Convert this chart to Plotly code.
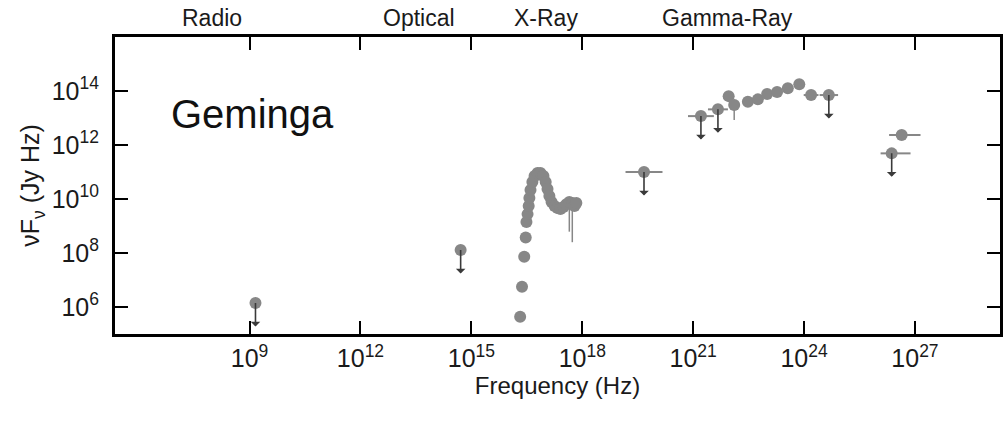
import numpy as np
import plotly.graph_objects as go

# ---------------- data (log10 values) ----------------
# Radio / optical / gamma points: log10 frequency, log10 nuFnu, upper-limit flag,
# horizontal extent (decades below / above), downward error (decades)
pt_log_nu   = [9.16, 14.71, 19.67, 21.21, 21.67, 21.96, 22.11, 22.48, 22.75, 23.00,
               23.27, 23.56, 23.87, 24.19, 24.67, 26.37, 26.64]
pt_log_flux = [6.15, 8.11, 11.00, 13.07, 13.32, 13.81, 13.48, 13.60, 13.69, 13.89,
               13.96, 14.10, 14.25, 13.85, 13.85, 11.69, 12.37]
pt_upper    = [1, 1, 1, 1, 1, 0, 0, 0, 0, 0, 0, 0, 0, 0, 1, 1, 0]
pt_xerr_lo  = [0, 0, 0.50, 0.35, 0.27, 0, 0, 0, 0, 0, 0, 0, 0, 0.20, 0.25, 0.30, 0.34]
pt_xerr_hi  = [0, 0, 0.50, 0.35, 0.27, 0, 0, 0, 0, 0, 0, 0, 0, 0.20, 0.25, 0.51, 0.51]
pt_yerr_lo  = [0, 0, 0, 0, 0, 0, 0.55, 0, 0, 0, 0, 0, 0, 0, 0, 0, 0]

# X-ray spectrum points
xr_log_nu   = [16.32, 16.37, 16.43, 16.47, 16.49, 16.52, 16.55, 16.57, 16.60, 16.65,
               16.71, 16.79, 16.87, 16.95, 17.01, 17.06, 17.11, 17.17, 17.25, 17.33,
               17.41, 17.49, 17.57, 17.65, 17.73, 17.79, 17.84]
xr_log_flux = [5.64, 6.75, 7.86, 8.57, 9.15, 9.44, 9.74, 10.04, 10.33, 10.63,
               10.85, 10.96, 10.96, 10.85, 10.63, 10.37, 10.11, 9.89, 9.74, 9.67,
               9.63, 9.70, 9.81, 9.89, 9.85, 9.74, 9.85]
xr_yerr_lo  = [0, 0, 0, 0, 0, 0, 0, 0, 0, 0, 0, 0, 0, 0, 0, 0, 0, 0, 0, 0,
               0, 0, 0, 1.10, 1.45, 0, 0]

x_tick_exp = [9, 12, 15, 18, 21, 24, 27]
y_tick_exp = [6, 8, 10, 12, 14]

bands = ["Radio", "Optical", "X-Ray", "Gamma-Ray"]
band_log_nu = [7.98, 13.58, 17.03, 21.94]

source_name = "Geminga"

# ---------------- build figure ----------------
GRAY = "#878787"
FONT = "Liberation Sans, Arial, Helvetica, sans-serif"
TXT = "#1a1a1a"

def lin(v):
    return 10.0 ** np.asarray(v, dtype=float)

pnu = lin(pt_log_nu)
pfl = lin(pt_log_flux)
ex_minus = pnu * (1 - 10.0 ** (-np.asarray(pt_xerr_lo)))
ex_plus = pnu * (10.0 ** np.asarray(pt_xerr_hi) - 1)
ey_minus = pfl * (1 - 10.0 ** (-np.asarray(pt_yerr_lo)))

xnu = lin(xr_log_nu)
xfl = lin(xr_log_flux)
xey_minus = xfl * (1 - 10.0 ** (-np.asarray(xr_yerr_lo)))

fig = go.Figure()

fig.add_trace(go.Scatter(
    x=xnu, y=xfl, mode="markers",
    marker=dict(color=GRAY, size=12, line=dict(width=0)),
    error_y=dict(type="data", symmetric=False, array=np.zeros_like(xfl),
                 arrayminus=xey_minus, color=GRAY, thickness=1.5, width=0),
    showlegend=False, hoverinfo="x+y"))

fig.add_trace(go.Scatter(
    x=pnu, y=pfl, mode="markers",
    marker=dict(color=GRAY, size=12, line=dict(width=0)),
    error_x=dict(type="data", symmetric=False, array=ex_plus, arrayminus=ex_minus,
                 color=GRAY, thickness=2, width=0),
    error_y=dict(type="data", symmetric=False, array=np.zeros_like(pfl),
                 arrayminus=ey_minus, color=GRAY, thickness=1.5, width=0),
    showlegend=False, hoverinfo="x+y"))

annotations = []
# upper-limit arrows
for lx, ly, ul in zip(pt_log_nu, pt_log_flux, pt_upper):
    if ul:
        annotations.append(dict(
            x=lx, y=ly, xref="x", yref="y", text="", showarrow=True,
            ax=0, ay=25, arrowside="start", arrowhead=2, arrowsize=1.1,
            arrowwidth=1.6, arrowcolor="#3a3a3a", standoff=0, startstandoff=0))

# band labels on top
for name, lx in zip(bands, band_log_nu):
    annotations.append(dict(
        x=lx, y=1.0, xref="x", yref="paper", yanchor="bottom", yshift=4,
        text=name, showarrow=False, font=dict(family=FONT, size=23, color=TXT)))

annotations.append(dict(
    x=0.155, y=0.74, xref="paper", yref="paper", text=source_name, showarrow=False,
    xanchor="center", yanchor="middle", font=dict(family=FONT, size=40, color="#111")))

fig.update_layout(
    width=1004, height=421,
    margin=dict(l=115, r=1, t=37, b=87),
    paper_bgcolor="white", plot_bgcolor="white",
    font=dict(family=FONT, color=TXT),
    annotations=annotations,
)

fig.update_xaxes(
    type="log", range=[5.36, 29.3],
    tickmode="array", tickvals=[10.0 ** e for e in x_tick_exp],
    ticktext=[f"10<sup>{e}</sup>" for e in x_tick_exp],
    ticks="inside", ticklen=13, tickwidth=1.5, tickcolor="black",
    showline=True, linewidth=3, linecolor="black", mirror="ticks",
    showgrid=False, zeroline=False,
    tickfont=dict(family=FONT, size=25, color=TXT),
    title=dict(text="Frequency (Hz)", font=dict(family=FONT, size=24, color=TXT), standoff=0),
)
fig.update_yaxes(
    type="log", range=[5, 16],
    tickmode="array", tickvals=[10.0 ** e for e in y_tick_exp],
    ticktext=[f"10<sup>{e}</sup>" for e in y_tick_exp],
    ticks="inside", ticklen=13, tickwidth=1.5, tickcolor="black",
    showline=True, linewidth=3, linecolor="black", mirror="ticks",
    showgrid=False, zeroline=False, ticklabelstandoff=8,
    tickfont=dict(family=FONT, size=25, color=TXT),
    title=dict(text="νF<sub>ν</sub> (Jy Hz)", font=dict(family=FONT, size=25, color=TXT), standoff=5),
)

fig.write_html("out.html")
